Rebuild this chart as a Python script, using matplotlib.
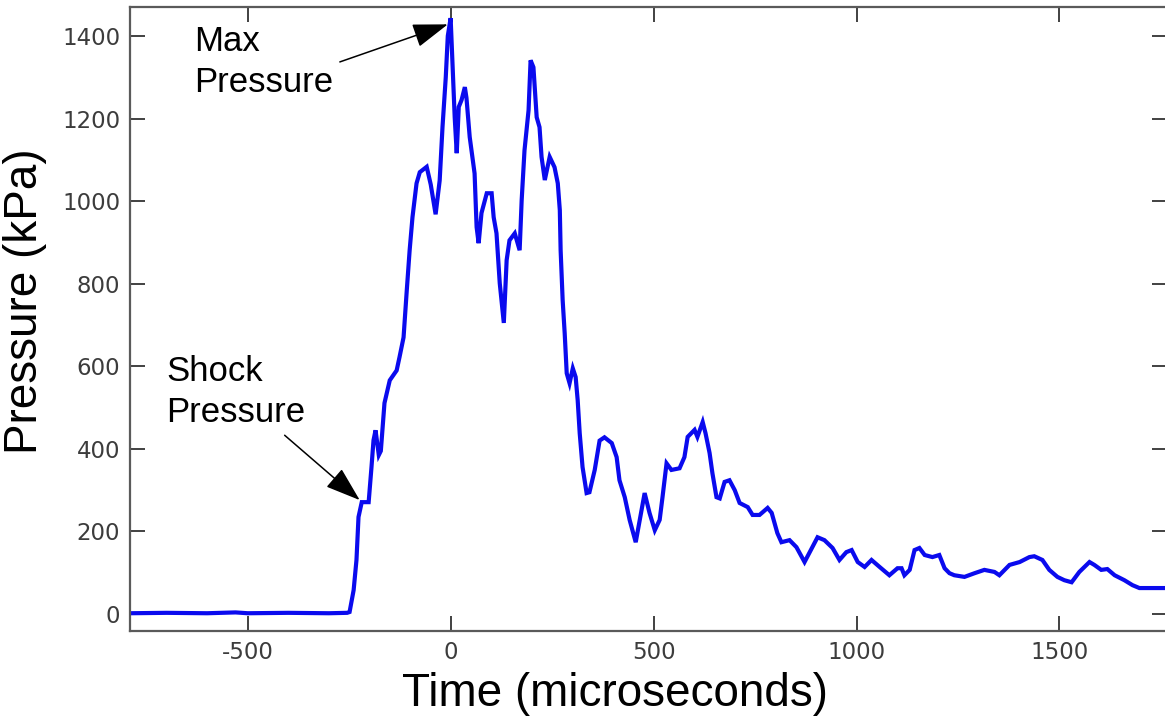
import matplotlib
matplotlib.use("Agg")
import matplotlib.pyplot as plt

plt.rcParams['axes.unicode_minus'] = False

# pressure trace: time in microseconds, pressure in kPa
tiempo = [-790, -700, -600, -530, -500, -400, -300, -255, -249, -239, -232, -227,
          -219, -202, -195, -190, -185, -177, -172, -163, -150, -133, -126, -116,
          -108, -101, -94, -84, -76, -59, -49, -37, -27, -20, -12, -7, 0, 5, 10,
          15, 20, 27, 35, 39, 47, 59, 64, 69, 76, 89, 101, 106, 113, 121, 131, 138,
          145, 158, 170, 175, 182, 192, 197, 204, 212, 219, 224, 232, 244, 256, 264,
          269, 271, 276, 281, 286, 293, 301, 308, 313, 318, 325, 335, 342, 355, 367,
          379, 397, 409, 416, 429, 441, 456, 466, 478, 490, 503, 515, 522, 532, 544,
          564, 576, 584, 601, 608, 621, 628, 638, 645, 655, 663, 675, 687, 700, 712,
          732, 744, 761, 781, 791, 805, 815, 835, 852, 872, 904, 921, 941, 958, 975,
          988, 1003, 1020, 1037, 1057, 1081, 1101, 1111, 1118, 1131, 1143, 1155,
          1168, 1187, 1204, 1217, 1229, 1241, 1266, 1291, 1315, 1340, 1352, 1377,
          1402, 1426, 1438, 1458, 1475, 1495, 1512, 1530, 1549, 1574, 1586, 1603,
          1618, 1636, 1660, 1680, 1697, 1765]
pressao = [2, 3, 2, 4, 2, 3, 2, 3, 5, 58, 131, 235,
           271, 271, 356, 421, 445, 385, 395, 511, 566, 590, 622, 670,
           785, 881, 961, 1043, 1070, 1083, 1040, 968, 1050, 1180, 1300, 1400, 1443, 1324, 1203,
           1116, 1228, 1245, 1276, 1250, 1155, 1067, 937, 898, 971, 1019, 1019, 961, 922, 801, 705, 857,
           905, 922, 881, 1002, 1123, 1220, 1341, 1324, 1203, 1179, 1107, 1051, 1107, 1082, 1043,
           978, 881, 760, 680, 583, 559, 595, 574, 518, 438, 356, 293, 295, 349, 420,
           428, 414, 380, 324, 283, 228, 174, 228, 293, 245, 203, 228, 283, 365, 349,
           353, 380, 429, 446, 429, 465, 438, 390, 341, 283, 280, 320, 324, 300, 269,
           259, 240, 240, 257, 245, 196, 174, 179, 162, 126, 186, 179, 160, 131, 150,
           155, 126, 114, 131, 114, 94, 111, 111, 94, 107, 155, 160,
           143, 138, 143, 111, 99, 94, 90, 99, 107, 102, 94, 119,
           126, 138, 140, 131, 107, 90, 82, 77, 102, 126, 119, 107,
           109, 94, 82, 70, 63, 63]

ticks_x = [-500, 0, 500, 1000, 1500]
ticks_y = [0, 200, 400, 600, 800, 1000, 1200, 1400]

# annotations: (text, text position, arrow tail, arrow tip)
rotulos = ["Max\nPressure", "Shock\nPressure"]
pos_texto = [(-632, 1426), (-700, 627)]
cauda = [(-273, 1337), (-409, 433)]
ponta = [(-7, 1428), (-224, 276)]

fig = plt.figure(figsize=(11.65, 7.17), dpi=100)
ax = fig.add_axes([130 / 1165, 86 / 717, 1037 / 1165, 624 / 717])

ax.plot(tiempo, pressao, color='#0a0aee', lw=3.0, solid_joinstyle='miter')

ax.set_xlim(-790, 1765)
ax.set_ylim(-41, 1470)
ax.set_xticks(ticks_x)
ax.set_yticks(ticks_y)

ax.tick_params(direction='in', length=11, width=1.3, color='#333333',
               top=True, right=True, labelsize=16.5, labelcolor='#3c3c3c', pad=7)
for lab in ax.get_xticklabels() + ax.get_yticklabels():
    lab.set_family('DejaVu Sans')
for sp in ax.spines.values():
    sp.set_color('#5a5a5a')
    sp.set_linewidth(1.6)

ax.set_xlabel("Time (microseconds)", fontsize=33, family='Liberation Sans', color='black')
ax.set_ylabel("Pressure (kPa)", fontsize=33, family='Liberation Sans', color='black')
ax.xaxis.set_label_coords(0.468, -0.066)
ax.yaxis.set_label_coords(-0.08, 0.529)

for txt, pt, tail, tip in zip(rotulos, pos_texto, cauda, ponta):
    ax.text(pt[0], pt[1], txt, fontsize=25, family='Liberation Sans',
            ha='left', va='top', linespacing=1.3, color='black')
    ax.annotate('', xy=tip, xytext=tail,
                arrowprops=dict(arrowstyle='-|>,head_length=2.2,head_width=0.75',
                                color='black', lw=1.1, shrinkA=0, shrinkB=0))

fig.savefig('out.png', dpi=100, facecolor='white')
